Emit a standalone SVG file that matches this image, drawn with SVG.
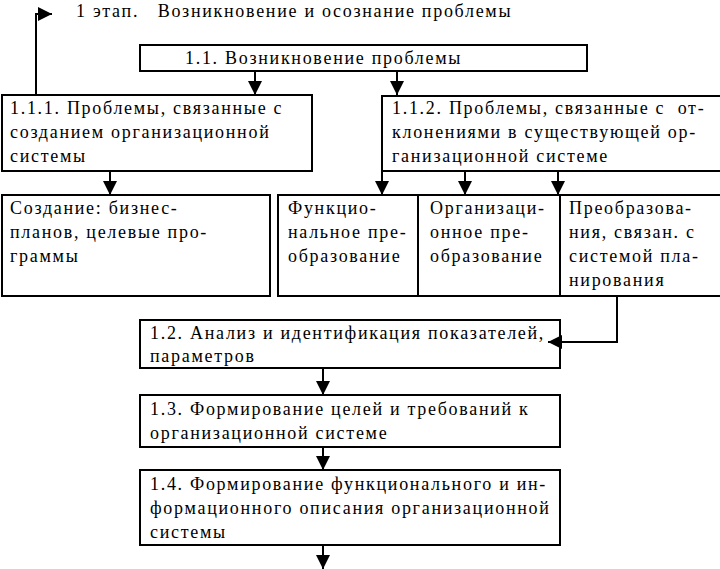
<svg xmlns="http://www.w3.org/2000/svg" width="720" height="569" viewBox="0 0 720 569">
<style>
rect{fill:#fff;stroke:#000;stroke-width:2}
text{font-family:"Liberation Serif","Times New Roman","DejaVu Serif",serif;font-size:18px;letter-spacing:1.7px;fill:#000}
.c path,.c line{stroke:#000;stroke-width:2;fill:none}
</style>
<defs><marker id="b" viewBox="0 0 10 10" refX="10" refY="5" markerWidth="14" markerHeight="14" orient="auto" markerUnits="userSpaceOnUse"><path d="M0,0L10,5L0,10z" fill="#000"/></marker></defs>
<rect x="0" y="0" width="720" height="569" style="stroke:none"/>
<text x="76" y="17" xml:space="preserve">1 этап.   Возникновение и осознание проблемы</text>
<g id="n11"><rect x="140" y="45" width="447" height="26"/><text x="185" y="64">1.1. Возникновение проблемы</text></g>
<g id="n111"><rect x="2" y="95" width="310" height="76"/><text x="10" y="114">1.1.1. Проблемы, связанные с</text><text x="10" y="138">созданием организационной</text><text x="10" y="162">системы</text></g>
<g id="n112"><rect x="382" y="96" width="340" height="75"/><text x="392" y="114" xml:space="preserve">1.1.2. Проблемы, связанные с  от-</text><text x="392" y="138">клонениями в существующей ор-</text><text x="392" y="162">ганизационной системе</text></g>
<g id="nc"><rect x="2" y="195" width="268" height="101"/><text x="10" y="214">Создание: бизнес-</text><text x="10" y="238">планов, целевые про-</text><text x="10" y="262">граммы</text></g>
<g id="nf"><rect x="278" y="195" width="140" height="101"/><text x="288" y="214">Функцио-</text><text x="288" y="238">нальное пре-</text><text x="288" y="262">образование</text></g>
<g id="no"><rect x="418" y="195" width="142" height="101"/><text x="430" y="214">Организаци-</text><text x="430" y="238">онное пре-</text><text x="430" y="262">образование</text></g>
<g id="np"><rect x="560" y="195" width="162" height="101"/><text x="569" y="214">Преобразова-</text><text x="569" y="238">ния, связан. с</text><text x="569" y="262">системой пла-</text><text x="569" y="286">нирования</text></g>
<g id="n12"><rect x="140" y="320" width="420" height="48"/><text x="150" y="339">1.2. Анализ и идентификация показателей,</text><text x="150" y="362">параметров</text></g>
<g id="n13"><rect x="140" y="395" width="420" height="52"/><text x="150" y="415">1.3. Формирование целей и требований к</text><text x="150" y="439">организационной системе</text></g>
<g id="n14"><rect x="140" y="470" width="420" height="75"/><text x="150" y="490">1.4. Формирование функционального и ин-</text><text x="150" y="514">формационного описания организационной</text><text x="150" y="538">системы</text></g>
<g class="c">
<path d="M36,95V14H52" marker-end="url(#b)"/>
<line x1="255" y1="72" x2="255" y2="95" marker-end="url(#b)"/>
<line x1="397" y1="72" x2="397" y2="95" marker-end="url(#b)"/>
<line x1="110" y1="172" x2="110" y2="195" marker-end="url(#b)"/>
<line x1="382" y1="172" x2="382" y2="195" marker-end="url(#b)"/>
<line x1="465" y1="172" x2="465" y2="195" marker-end="url(#b)"/>
<line x1="558" y1="172" x2="558" y2="195" marker-end="url(#b)"/>
<path d="M617,297V342H548" marker-end="url(#b)"/>
<line x1="323" y1="369" x2="323" y2="395" marker-end="url(#b)"/>
<line x1="323" y1="448" x2="323" y2="470" marker-end="url(#b)"/>
<line x1="323" y1="546" x2="323" y2="569" marker-end="url(#b)"/>
</g>
</svg>
